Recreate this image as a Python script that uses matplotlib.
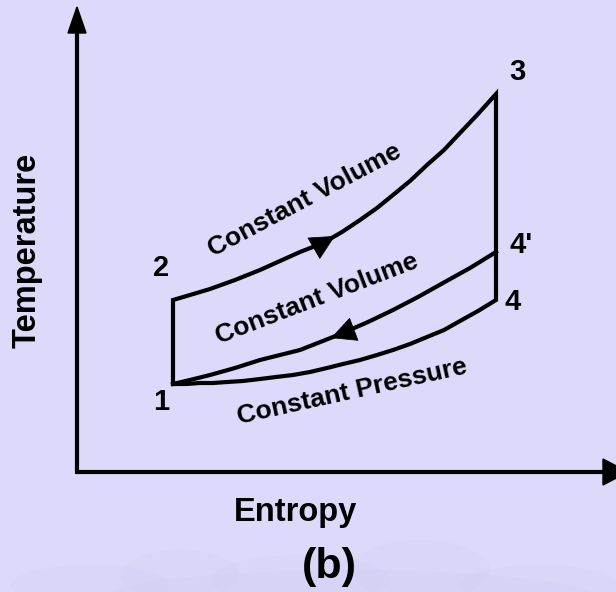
import matplotlib.pyplot as plt
from matplotlib.patches import Ellipse

# ============================================================================
# DATA: points, in pixel units (x right, y down)
# ============================================================================
# state points of the cycle
state_names = ['1', '2', '3', "4'", '4']
state_s = [173, 173, 496, 496, 496]
state_T = [384, 300, 94, 252, 300]

# 2 -> 3 : constant volume heat addition
cv_top_s = [173, 190, 210, 235, 260, 280, 300, 323, 342, 360, 377, 393, 410, 427, 444, 460, 478, 496]
cv_top_T = [300, 295, 289, 280, 270, 261, 252, 243, 232, 220, 208, 195, 181, 165, 150, 133, 114, 94]

# 4' -> 1 : constant volume heat rejection
cv_low_s = [496, 470, 443, 418, 393, 368, 345, 333, 300, 280, 260, 235, 210, 190, 173]
cv_low_T = [252, 268, 283, 297, 310, 322, 332, 337, 350, 355, 360, 368, 375, 380, 384]

# 4 -> 1 : constant pressure heat rejection
cp_s = [496, 478, 460, 444, 427, 410, 393, 377, 360, 343, 327, 310, 293, 276, 260, 243, 227, 213, 200, 186, 173]
cp_T = [300, 311, 321, 330, 337, 344, 350, 355, 360, 364, 368, 372, 375, 377, 379, 381, 382, 383, 383, 384, 384]

# label text, centre and angle
label_text = ['Constant Volume', 'Constant Volume', 'Constant Pressure']
label_x = [305, 317, 352]
label_y = [200, 299, 392]
label_rot = [28, 21, 12.5]

# positions of the state numbers
num_x = [161, 161, 517, 521, 513]
num_y = [402, 268, 72, 245, 302]

bg = '#DDD9FA'
plt.rcParams['font.family'] = ['Liberation Sans', 'DejaVu Sans']
plt.rcParams['font.weight'] = 'bold'

fig = plt.figure(figsize=(6.16, 5.92), dpi=100, facecolor=bg)
ax = fig.add_axes([0, 0, 1, 1])
ax.set_facecolor(bg)
ax.set_xlim(0, 616)
ax.set_ylim(592, 0)
ax.axis('off')

# faint texture at the bottom of the slide
for cx, cy, w, h in [(90, 585, 160, 40), (180, 575, 120, 50), (300, 580, 180, 50),
                     (420, 570, 140, 60), (540, 585, 160, 40), (350, 600, 500, 60)]:
    ax.add_patch(Ellipse((cx, cy), w, h, color='#CCC8EE', alpha=0.15, lw=0))

# axes with arrows
ax.plot([77, 77], [472, 30], color='k', lw=3, solid_capstyle='butt')
ax.plot([75, 604], [472, 472], color='k', lw=3, solid_capstyle='butt')
ax.fill([68, 86, 77], [33, 33, 7], color='k')
ax.fill([603, 603, 628], [459, 485, 472], color='k')

# cycle 1-2-3-4-1
loop_s = [state_s[0]] + cv_top_s + [state_s[4]] + cp_s
loop_T = [state_T[0]] + cv_top_T + [state_T[4]] + cp_T
ax.plot(loop_s, loop_T, color='k', lw=3, solid_joinstyle='miter')
ax.plot(cv_low_s, cv_low_T, color='k', lw=3, solid_joinstyle='round')

# direction arrows
arrow = dict(arrowstyle='-|>,head_length=0.5,head_width=0.25', mutation_scale=34,
             color='k', lw=0.5, shrinkA=0, shrinkB=0)
ax.annotate('', xy=(335, 236), xytext=(316, 247), arrowprops=arrow)
ax.annotate('', xy=(331, 338), xytext=(352, 330), arrowprops=arrow)

# state numbers
for name, x, y in zip(state_names, num_x, num_y):
    ax.text(x, y, name, fontsize=21, ha='center', va='center')

# process labels
for t, x, y, r in zip(label_text, label_x, label_y, label_rot):
    ax.text(x, y, t, fontsize=19, ha='center', va='center',
            rotation=r, rotation_mode='anchor')

ax.text(27, 250, 'Temperature', fontsize=23.5, rotation=90, ha='center', va='center')
ax.text(295, 512, 'Entropy', fontsize=23.5, ha='center', va='center')
ax.text(329, 567, '(b)', fontsize=31, ha='center', va='center')

fig.savefig('out.png', dpi=100, facecolor=bg)
